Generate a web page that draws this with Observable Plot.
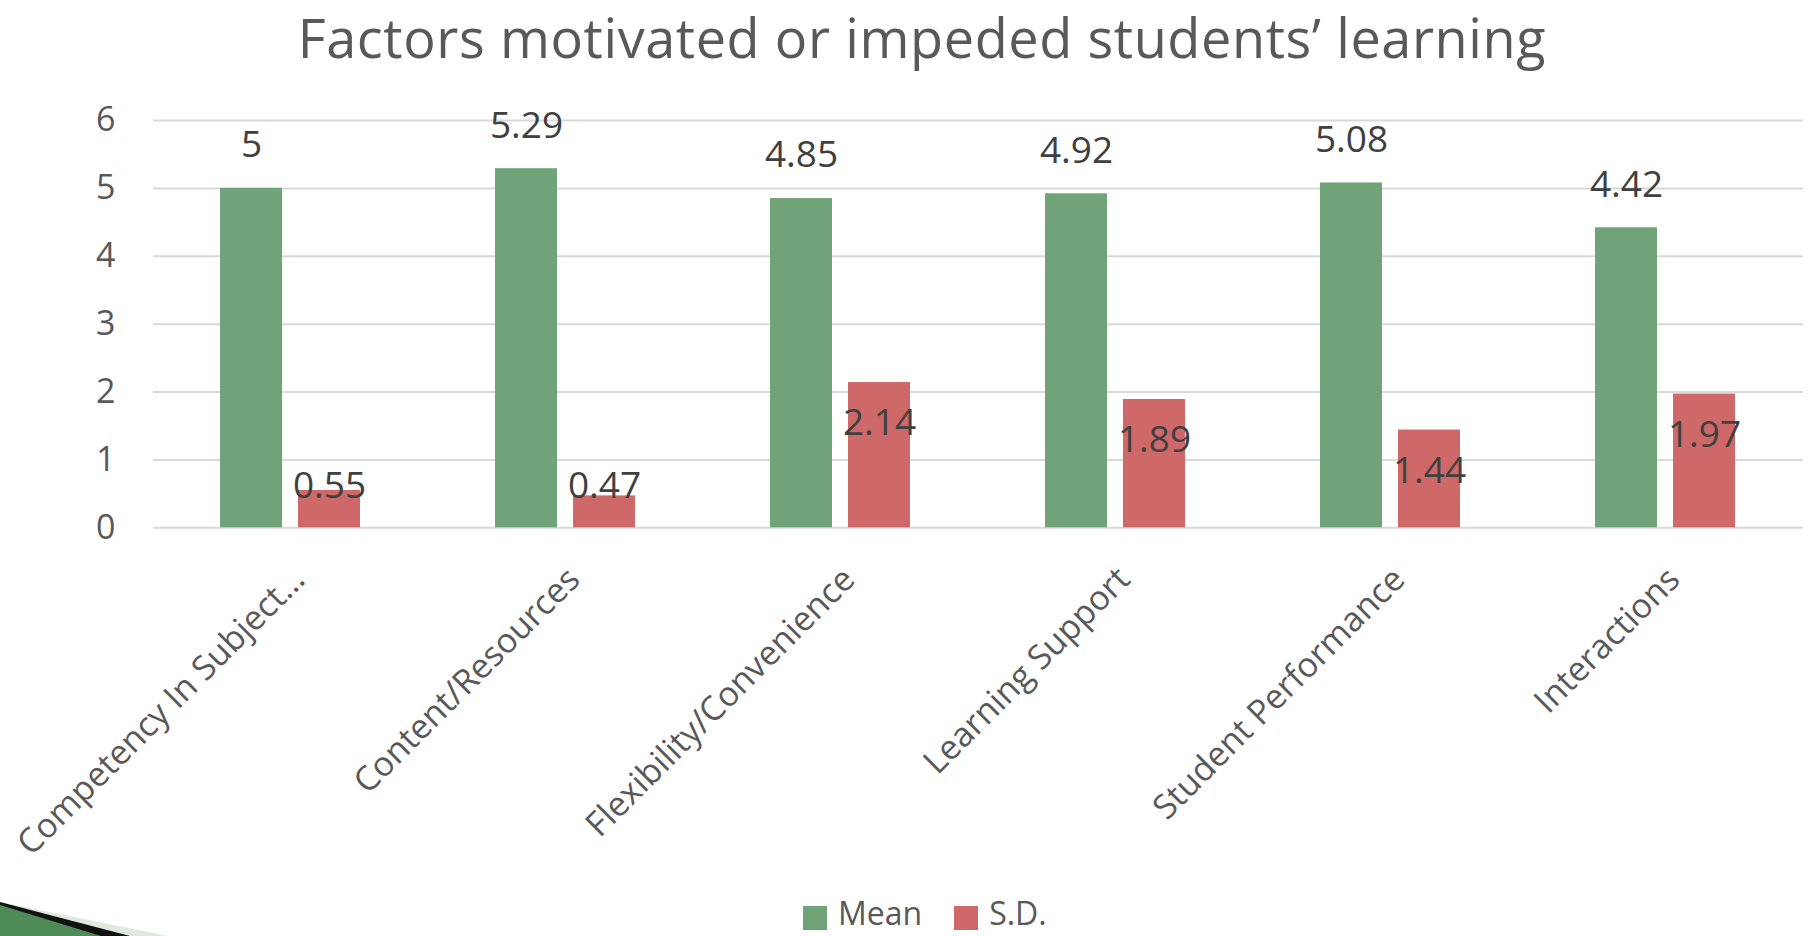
<!DOCTYPE html>
<html>
<head>
<meta charset="utf-8">
<script src="https://cdn.jsdelivr.net/npm/d3@7"></script>
<script src="https://cdn.jsdelivr.net/npm/@observablehq/plot@0.6"></script>
<style>
  html, body { margin: 0; padding: 0; background: #fff; overflow: hidden; }
  #page { position: relative; width: 1808px; height: 936px; font-family: "Open Sans", sans-serif; overflow: hidden; }
  #title { position: absolute; left: 922px; top: 0; transform: translateX(-50%);
           font-size: 54px; letter-spacing: 0.6px; line-height: 74px; color: #595959; white-space: nowrap; }
  #chart { position: absolute; left: 0; top: 80px; }
  #legend { position: absolute; left: 803px; top: 891px; display: flex; align-items: flex-start;
            font-size: 32px; color: #595959; line-height: 44px; height: 44px; }
  #legend .sw { width: 24px; height: 24px; margin-right: 11px; margin-top: 15px; flex: none; }
  #legend .item { display: flex; align-items: flex-start; margin-right: 32px; }
  #legend .item:last-child { margin-right: 0; }
  #deco { position: absolute; left: 0; top: 890px; }
</style>
</head>
<body>
<div id="page">
  <div id="title"></div>
  <div id="chart"></div>
  <div id="legend"></div>
  <svg id="deco" width="200" height="46" viewBox="0 890 200 46">
    <polygon points="0,902 168,936 0,936" fill="#dfeadf"/>
    <polygon points="0,902 130,936 0,936" fill="#111111"/>
    <polygon points="0,905 101,936 0,936" fill="#4f8b57"/>
  </svg>
</div>
<script>
const titleText = "Factors motivated or impeded students’ learning";
const categories = ["Competency In Subject…", "Content/Resources", "Flexibility/Convenience", "Learning Support", "Student Performance", "Interactions"];
const meanValues = [5, 5.29, 4.85, 4.92, 5.08, 4.42];
const sdValues = [0.55, 0.47, 2.14, 1.89, 1.44, 1.97];
const series = ["Mean", "S.D."];
const seriesColors = ["#71a378", "#cf6868"];
const yTicks = [0, 1, 2, 3, 4, 5, 6];

document.getElementById("title").textContent = titleText;

const meanData = categories.map((c, i) => ({category: c, series: series[0], value: meanValues[i]}));
const sdData = categories.map((c, i) => ({category: c, series: series[1], value: sdValues[i]}));
const data = meanData.concat(sdData);

const chart = Plot.plot({
  width: 1808,
  height: 815,
  marginLeft: 151,
  marginRight: 3,
  marginTop: 40,
  marginBottom: 367.7,
  style: {fontFamily: "Open Sans", background: "transparent"},
  fx: {domain: categories, padding: 0, label: null},
  x: {domain: series, paddingInner: 0.2025, paddingOuter: 0.846, axis: null},
  y: {domain: [0, 6], axis: null},
  color: {domain: series, range: seriesColors},
  marks: [
    Plot.gridY(yTicks, {stroke: "#d9d9d9", strokeWidth: 2, strokeOpacity: 1}),
    Plot.axisY(yTicks, {anchor: "left", tickSize: 0, tickPadding: 38, fontSize: 34, color: "#595959",
      tickFormat: d => String(d), label: null}),
    Plot.barY(data, {fx: "category", x: "series", y: "value", fill: "series"}),
    Plot.text(meanData, {fx: "category", x: "series", y: "value", text: d => String(d.value),
      dy: -43, lineAnchor: "middle", fontSize: 37, fill: "#404040"}),
    Plot.text(sdData, {fx: "category", x: "series", y: d => Math.max(d.value - 0.6, 0.62), text: d => String(d.value),
      lineAnchor: "middle", fontSize: 37, fill: "#404040"}),
    Plot.axisFx({anchor: "bottom", tickRotate: -45, tickSize: 0, tickPadding: 46, dx: 8, fontSize: 34, color: "#595959", label: null})
  ]
});
document.getElementById("chart").appendChild(chart);

const legend = document.getElementById("legend");
series.forEach((s, i) => {
  const item = document.createElement("div");
  item.className = "item";
  const sw = document.createElement("div");
  sw.className = "sw";
  sw.style.background = seriesColors[i];
  const t = document.createElement("span");
  t.textContent = s;
  item.appendChild(sw);
  item.appendChild(t);
  legend.appendChild(item);
});
</script>
</body>
</html>
